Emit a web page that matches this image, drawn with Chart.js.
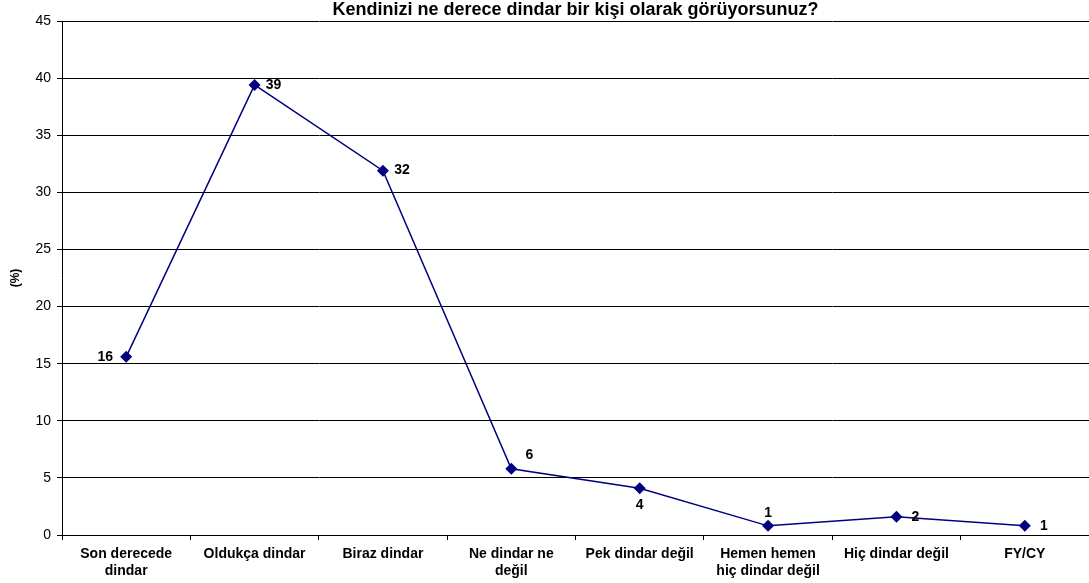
<!DOCTYPE html>
<html>
<head>
<meta charset="utf-8">
<script src="https://cdn.jsdelivr.net/npm/chart.js@4.4.1/dist/chart.umd.min.js"></script>
<style>
  html, body { margin: 0; padding: 0; background: #fff; }
  #wrap { width: 1089px; height: 583px; }
</style>
</head>
<body>
<div id="wrap"><canvas id="religionChart"></canvas></div>
<script>
const chartTitle = 'Kendinizi ne derece dindar bir kişi olarak görüyorsunuz?';
const categories = [
    ['Son derecede', 'dindar'],
    'Oldukça dindar',
    'Biraz dindar',
    ['Ne dindar ne', 'değil'],
    'Pek dindar değil',
    ['Hemen hemen', 'hiç dindar değil'],
    'Hiç dindar değil',
    'FY/CY'
];
const percentages = [15.6, 39.4, 31.9, 5.8, 4.1, 0.8, 1.6, 0.8];
const yTicks = [0, 5, 10, 15, 20, 25, 30, 35, 40, 45];
const labelSides = ['left', 'right', 'right', 'aboveRight', 'below', 'above', 'right', 'right'];

const fontFamily = '"Liberation Sans", Arial, sans-serif';

// title centred over the plot area, like the original
const plotTitle = {
    id: 'plotTitle',
    afterDraw(chart) {
        const ctx = chart.ctx;
        const area = chart.chartArea;
        ctx.save();
        ctx.font = 'bold 18px ' + fontFamily;
        ctx.fillStyle = '#000';
        ctx.textAlign = 'center';
        ctx.textBaseline = 'middle';
        ctx.fillText(chartTitle, (area.left + area.right) / 2, 10);
        ctx.restore();
    }
};

// draws the rounded value next to each marker
const valueLabels = {
    id: 'valueLabels',
    afterDatasetsDraw(chart) {
        const ctx = chart.ctx;
        const meta = chart.getDatasetMeta(0);
        ctx.save();
        ctx.font = 'bold 14px ' + fontFamily;
        ctx.fillStyle = '#000';
        ctx.textAlign = 'center';
        ctx.textBaseline = 'middle';
        meta.data.forEach((pt, i) => {
            const text = String(Math.round(percentages[i]));
            let dx = 0, dy = 0;
            switch (labelSides[i]) {
                case 'left': dx = -21; break;
                case 'right': dx = 19; break;
                case 'above': dy = -13; break;
                case 'below': dy = 17; break;
                case 'aboveRight': dx = 18; dy = -14; break;
            }
            ctx.fillText(text, pt.x + dx, pt.y + dy);
        });
        ctx.restore();
    }
};

const ctx = document.getElementById('religionChart').getContext('2d');
new Chart(ctx, {
    type: 'line',
    data: {
        labels: categories,
        datasets: [{
            data: percentages,
            borderColor: '#000080',
            backgroundColor: '#000080',
            borderWidth: 1.5,
            pointStyle: 'rectRot',
            pointRadius: 6,
            pointBorderWidth: 0,
            tension: 0
        }]
    },
    options: {
        responsive: true,
        maintainAspectRatio: false,
        animation: false,
        layout: { autoPadding: false, padding: { top: 21, right: 0, bottom: 0, left: 0 } },
        plugins: {
            legend: { display: false },
            tooltip: { enabled: false }
        },
        scales: {
            x: {
                offset: true,
                grid: {
                    offset: true,
                    drawOnChartArea: false,
                    color: '#000',
                    tickLength: 5
                },
                border: { color: '#000', width: 1 },
                ticks: {
                    color: '#000',
                    maxRotation: 0,
                    autoSkip: false,
                    padding: 5,
                    font: { family: fontFamily, size: 14, weight: 'bold', lineHeight: 1.25 }
                },
                afterFit(scale) {
                    scale.height = 48;
                    scale.paddingRight = 0;
                }
            },
            y: {
                min: 0,
                max: 45,
                afterBuildTicks(scale) {
                    scale.ticks = yTicks.map(v => ({ value: v }));
                },
                grid: {
                    color: '#000',
                    lineWidth: 1,
                    tickLength: 5
                },
                border: { color: '#000', width: 1 },
                ticks: {
                    color: '#000',
                    padding: 6,
                    font: { family: fontFamily, size: 14 }
                },
                title: {
                    display: true,
                    text: '(%)',
                    color: '#000',
                    font: { family: fontFamily, size: 12, weight: 'bold' },
                    padding: { top: 8, bottom: 0 }
                },
                afterFit(scale) { scale.width = 62; }
            }
        }
    },
    plugins: [valueLabels, plotTitle]
});
</script>
</body>
</html>
